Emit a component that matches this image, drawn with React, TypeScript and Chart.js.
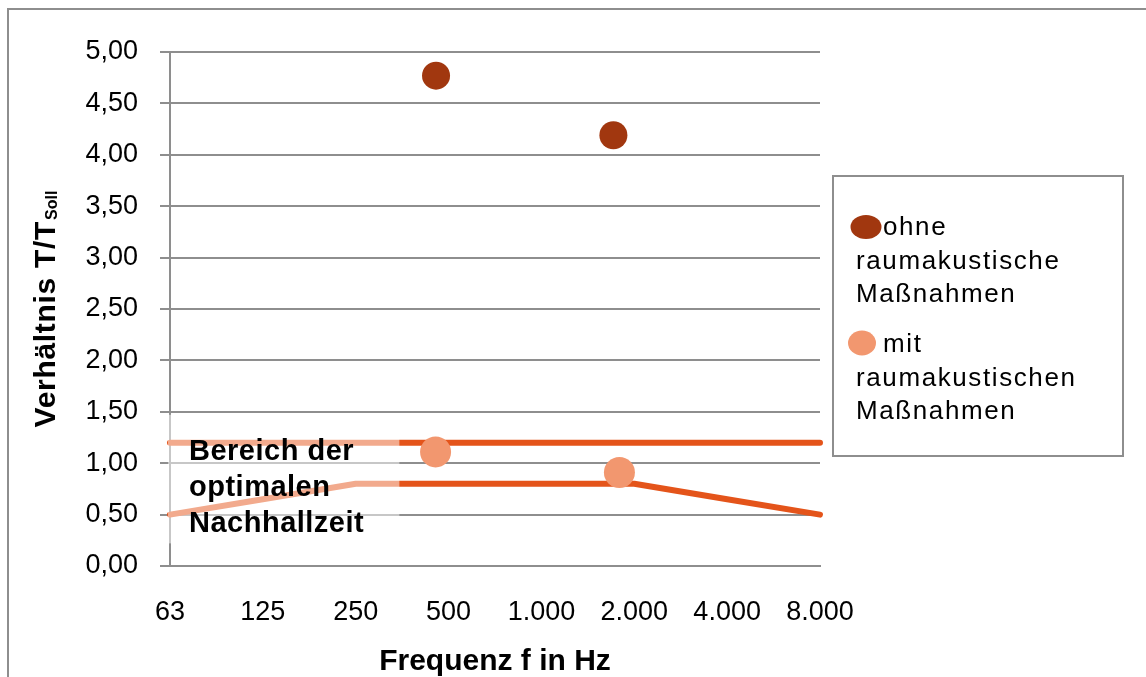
import { useEffect, useRef } from 'react';
import { Chart, registerables } from 'chart.js';

Chart.register(...registerables);

// ---- data ----
const freqLabels = ['63', '125', '250', '500', '1.000', '2.000', '4.000', '8.000'];
const limitPos = [0, 1, 2, 3, 4, 5, 6, 7];
const upperLimit = [1.2, 1.2, 1.2, 1.2, 1.2, 1.2, 1.2, 1.2];
const lowerLimit = [0.5, 0.65, 0.8, 0.8, 0.8, 0.8, 0.65, 0.5];
const ohnePos = [2.865, 4.775];
const ohneValues = [4.77, 4.19];
const mitPos = [2.86, 4.84];
const mitValues = [1.11, 0.91];
const ohneLabel = ['ohne', 'raumakustische', 'Maßnahmen'];
const mitLabel = ['mit', 'raumakustischen', 'Maßnahmen'];
const rangeText = ['Bereich der', 'optimalen', 'Nachhallzeit'];
const xTitle = 'Frequenz f in Hz';
const yTitleMain = 'Verhältnis T/T';
const yTitleSub = 'Soll';

// ---- styles ----
const FONT = '"Liberation Sans", Arial, sans-serif';
const GRAY = '#8E8E8E';
const LIMIT_COLOR = '#E4541A';
const OHNE_COLOR = '#A1370F';
const MIT_COLOR = '#F2976F';

const decorPlugin = {
  id: 'decor',
  beforeDraw(chart: any) {
    const ctx = chart.ctx;
    ctx.save();
    ctx.fillStyle = '#fff';
    ctx.fillRect(0, 0, chart.width, chart.height);
    ctx.strokeStyle = GRAY;
    ctx.lineWidth = 2;
    ctx.strokeRect(8, 9, chart.width + 20, chart.height + 20);
    ctx.restore();
  },
  afterDatasetsDraw(chart: any) {
    const { ctx, chartArea, scales } = chart;
    const x = scales.x;
    const y = scales.y;
    const left = chartArea.left - 2;
    const right = x.getPixelForValue(2.47);
    const top = y.getPixelForValue(1.5) + 3;
    const bottom = y.getPixelForValue(0.22);
    ctx.save();
    ctx.fillStyle = 'rgba(255,255,255,0.5)';
    ctx.fillRect(left, top, right - left, bottom - top);
    ctx.fillStyle = '#000';
    ctx.font = `bold 29px ${FONT}`;
    (ctx as any).letterSpacing = '0.5px';
    ctx.textAlign = 'left';
    ctx.textBaseline = 'alphabetic';
    rangeText.forEach((t, i) => ctx.fillText(t, left + 21, top + 45 + i * 36));
    ctx.restore();
  },
  afterDraw(chart: any) {
    const { ctx, chartArea } = chart;
    // legend
    const lx = chartArea.right + 13;
    const ly = 176;
    const lw = 290;
    const lh = 280;
    ctx.save();
    ctx.fillStyle = '#fff';
    ctx.fillRect(lx, ly, lw, lh);
    ctx.strokeStyle = GRAY;
    ctx.lineWidth = 2;
    ctx.strokeRect(lx, ly, lw, lh);
    const items = [
      { lines: ohneLabel, color: OHNE_COLOR, rx: 15.5, ry: 12, cx: 33, cy: 51, by: 59 },
      { lines: mitLabel, color: MIT_COLOR, rx: 14, ry: 12.5, cx: 29, cy: 167, by: 176 },
    ];
    ctx.font = `26px ${FONT}`;
    (ctx as any).letterSpacing = '1.6px';
    ctx.textAlign = 'left';
    ctx.textBaseline = 'alphabetic';
    items.forEach((it) => {
      ctx.fillStyle = it.color;
      ctx.beginPath();
      ctx.ellipse(lx + it.cx, ly + it.cy, it.rx, it.ry, 0, 0, Math.PI * 2);
      ctx.fill();
      ctx.fillStyle = '#000';
      it.lines.forEach((t, i) => {
        const tx = i === 0 ? lx + 50 : lx + 23;
        ctx.fillText(t, tx, ly + it.by + i * 33.5);
      });
    });
    ctx.restore();

    // y title with subscript
    ctx.save();
    ctx.fillStyle = '#000';
    ctx.font = `bold 30px ${FONT}`;
    (ctx as any).letterSpacing = '0.7px';
    const wMain = ctx.measureText(yTitleMain).width;
    ctx.font = `bold 16px ${FONT}`;
    (ctx as any).letterSpacing = '0px';
    const wSub = ctx.measureText(yTitleSub).width;
    const total = wMain + 1 + wSub;
    const cy = (chartArea.top + chartArea.bottom) / 2;
    ctx.translate(55, cy + total / 2);
    ctx.rotate(-Math.PI / 2);
    ctx.textAlign = 'left';
    ctx.textBaseline = 'alphabetic';
    ctx.font = `bold 30px ${FONT}`;
    (ctx as any).letterSpacing = '0.7px';
    ctx.fillText(yTitleMain, 0, 0);
    ctx.font = `bold 16px ${FONT}`;
    (ctx as any).letterSpacing = '0px';
    ctx.fillText(yTitleSub, wMain + 1, 2);
    ctx.restore();
  },
};

export default function App() {
  const ref = useRef<HTMLCanvasElement | null>(null);

  useEffect(() => {
    if (!ref.current) return;
    const toPts = (xs: number[], ys: number[]) => xs.map((v, i) => ({ x: v, y: ys[i] }));
    const chart = new Chart(ref.current, {
      type: 'scatter',
      data: {
        datasets: [
          {
            label: ohneLabel.join(' '),
            data: toPts(ohnePos, ohneValues),
            backgroundColor: OHNE_COLOR,
            borderColor: OHNE_COLOR,
            borderWidth: 0,
            pointRadius: 14,
            showLine: false,
            order: 0,
          },
          {
            label: mitLabel.join(' '),
            data: toPts(mitPos, mitValues),
            backgroundColor: MIT_COLOR,
            borderColor: MIT_COLOR,
            borderWidth: 0,
            pointRadius: 15.5,
            showLine: false,
            order: 0,
          },
          {
            label: 'obere Grenze',
            data: toPts(limitPos, upperLimit),
            borderColor: LIMIT_COLOR,
            backgroundColor: LIMIT_COLOR,
            borderWidth: 6,
            borderCapStyle: 'round',
            borderJoinStyle: 'round',
            pointRadius: 0,
            showLine: true,
            clip: false as any,
            order: 1,
          },
          {
            label: 'untere Grenze',
            data: toPts(limitPos, lowerLimit),
            borderColor: LIMIT_COLOR,
            backgroundColor: LIMIT_COLOR,
            borderWidth: 6,
            borderCapStyle: 'round',
            borderJoinStyle: 'round',
            pointRadius: 0,
            showLine: true,
            clip: false as any,
            order: 1,
          },
        ] as any,
      },
      options: {
        animation: false,
        responsive: false,
        devicePixelRatio: 1,
        layout: { padding: { left: 0, right: 326, top: 52, bottom: 0 } },
        plugins: {
          legend: { display: false },
          tooltip: { enabled: false },
        },
        scales: {
          x: {
            type: 'linear',
            min: 0,
            max: 7,
            afterFit: (s: any) => {
              s.height = 111;
            },
            grid: { display: false, drawTicks: false },
            border: { display: true, color: GRAY, width: 2 },
            ticks: {
              stepSize: 1,
              padding: 30,
              maxRotation: 0,
              autoSkip: false,
              color: '#000',
              font: { family: FONT, size: 27, lineHeight: 1.2 },
              callback: (v: any) => freqLabels[Number(v)] ?? '',
            },
            title: {
              display: true,
              text: xTitle,
              color: '#000',
              padding: 0,
              font: { family: FONT, size: 30, weight: 'bold', lineHeight: 1 },
            },
          },
          y: {
            type: 'linear',
            min: 0,
            max: 5,
            afterFit: (s: any) => {
              s.width = 170;
            },
            grid: { color: GRAY, lineWidth: 2, tickLength: 10, drawTicks: true },
            border: { display: true, color: GRAY, width: 2 },
            ticks: {
              stepSize: 0.5,
              padding: 22,
              color: '#000',
              font: { family: FONT, size: 27 },
              callback: (v: any) => Number(v).toFixed(2).replace('.', ','),
            },
          },
        },
      } as any,
      plugins: [decorPlugin],
    });
    return () => chart.destroy();
  }, []);

  return (
    <div style={{ position: 'absolute', left: 0, top: 0, width: 1146, height: 677 }}>
      <canvas ref={ref} width={1146} height={677} style={{ display: 'block', width: 1146, height: 677 }} />
    </div>
  );
}
